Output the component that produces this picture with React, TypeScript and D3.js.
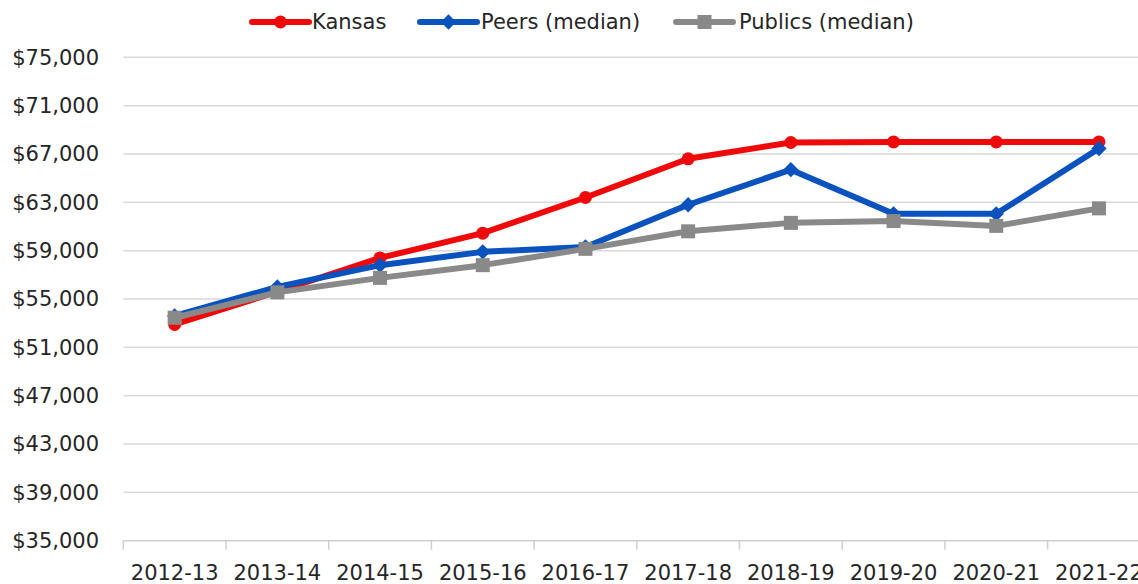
import React from "react";
import * as d3 from "d3";

const categories = ["2012-13","2013-14","2014-15","2015-16","2016-17","2017-18","2018-19","2019-20","2020-21","2021-22"];
const kansas = [52900, 55600, 58400, 60450, 63400, 66600, 67950, 68000, 68000, 68000];
const peers = [53600, 56000, 57800, 58900, 59300, 62800, 65700, 62050, 62050, 67450];
const publics = [53450, 55550, 56750, 57800, 59150, 60600, 61300, 61450, 61050, 62500];
const yTicks = [35000, 39000, 43000, 47000, 51000, 55000, 59000, 63000, 67000, 71000, 75000];

const W = 1138, H = 584;
const FONT = "'DejaVu Sans', sans-serif";

export default function App() {
  const x = d3.scaleBand<string>().domain(categories).range([123.3, 123.3 + 102.7 * 10]).padding(0);
  const y = d3.scaleLinear().domain([35000, 75000]).range([540.7, 57.3]);
  const cx = (c: string) => (x(c) as number) + x.bandwidth() / 2;
  const line = d3.line<number>().x((_, i) => cx(categories[i])).y(d => y(d));
  const fmt = (v: number) => "$" + d3.format(",")(v);

  const series = [
    { name: "Kansas", data: kansas, color: "#EE0A0A", marker: "circle", lx: 252, tx: 312 },
    { name: "Peers (median)", data: peers, color: "#0A52BE", marker: "diamond", lx: 420, tx: 481 },
    { name: "Publics (median)", data: publics, color: "#898989", marker: "square", lx: 676, tx: 739 },
  ];

  const marker = (type: string, px: number, py: number, color: string, key: string) => {
    if (type === "circle") return <circle key={key} cx={px} cy={py} r={6.5} fill={color} />;
    if (type === "diamond") return <path key={key} d={d3.symbol(d3.symbolDiamond2, 150)()!} transform={`translate(${px},${py})`} fill={color} />;
    return <rect key={key} x={px - 7} y={py - 7} width={14} height={14} fill={color} />;
  };

  return (
    <svg width={W} height={H} style={{ position: "absolute", left: 0, top: 0, background: "#fff" }}>
      {yTicks.map(t => (
        <g key={t}>
          {t !== 35000 && <line x1={123.3} x2={W} y1={y(t)} y2={y(t)} stroke="#d9d9d9" strokeWidth={1.5} />}
          <text x={99} y={y(t)} dy="0.35em" textAnchor="end" fontFamily={FONT} fontSize={21} fill="#262626">{fmt(t)}</text>
        </g>
      ))}
      <line x1={123.3} x2={W} y1={y(35000)} y2={y(35000)} stroke="#cfcfcf" strokeWidth={1.5} />
      {categories.map(c => (
        <line key={"t" + c} x1={(x(c) as number)} x2={(x(c) as number)} y1={y(35000)} y2={y(35000) + 9} stroke="#cfcfcf" strokeWidth={1.5} />
      ))}
      {categories.map(c => (
        <text key={c} x={cx(c)} y={572.3} dy="0.35em" textAnchor="middle" fontFamily={FONT} fontSize={21} fill="#262626">{c}</text>
      ))}
      {series.map(s => (
        <g key={s.name}>
          <path d={line(s.data)!} fill="none" stroke={s.color} strokeWidth={6} strokeLinejoin="round" />
          {s.data.map((v, i) => marker(s.marker, cx(categories[i]), y(v), s.color, s.name + i))}
        </g>
      ))}
      {series.map(s => (
        <g key={"lg" + s.name}>
          <line x1={s.lx} x2={s.lx + 57} y1={22} y2={22} stroke={s.color} strokeWidth={6} strokeLinecap="round" />
          {marker(s.marker, s.lx + 28.5, 22, s.color, "lm" + s.name)}
          <text x={s.tx} y={22} dy="0.35em" fontFamily={FONT} fontSize={21} fill="#262626">{s.name}</text>
        </g>
      ))}
    </svg>
  );
}
